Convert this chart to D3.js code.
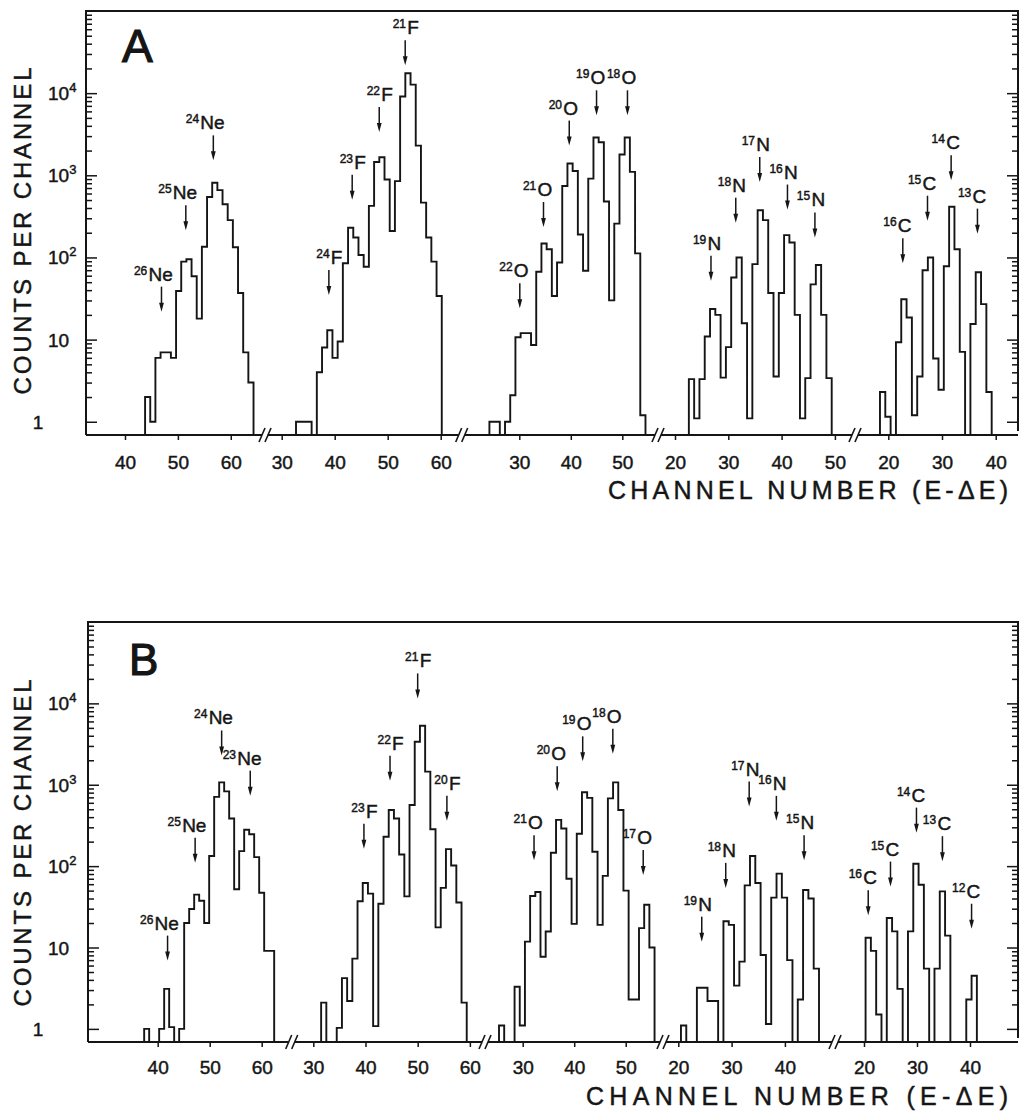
<!DOCTYPE html>
<html>
<head>
<meta charset="utf-8">
<script src="https://cdn.jsdelivr.net/npm/d3@7"></script>
<style>
body{margin:0;background:#fff;}
svg text{font-family:"Liberation Sans","DejaVu Sans",sans-serif;fill:#151515;stroke:#151515;stroke-width:0.45;}
</style>
</head>
<body>
<div class="chart"></div>
<script>
// element groups, left to right (same order in both panels)
var elements = ["Ne","F","O","N","C"];

// x tick labels of every group
var ticksA = [[40,50,60],[30,40,50,60],[30,40,50],[20,30,40,50],[20,30,40]];
var ticksB = [[40,50,60],[30,40,50,60],[30,40,50],[20,30,40],[20,30,40]];

// y tick labels as powers of ten
var yExponents = [0,1,2,3,4];

// first and last channel edge of each histogram
var edgesA = [[43.8,64.3],[32.7,60.2],[24.2,54.5],[22.6,49.4],[18.45,39.25]];
var edgesB = [[37.4,62.4],[31.5,59.4],[25.4,55.6],[20.5,46.4],[20.3,41.3]];

// counts per channel, panel A
var countsA_Ne = [2,1,6,7,7,6,39,89,95,59,18,135,545,810,660,445,285,133,37,7,3];
var countsA_F = [1,1,1,0,4,8,13,6,9.5,85,230,175,107,77,425,1450,1660,890,210,850,9100,17500,12700,2300,465,175,89,34];
var countsA_O = [1,1,0,1,2.1,10.7,12,12,8.6,67,148,126,34,87,740,1390,1130,190,69,910,2880,2530,480,30,258,1790,2880,1100,112,1.2];
var countsA_N = [3.3,1.1,3.3,10.9,23.6,20,3.45,8.1,57,100,15.8,1.1,83,375,285,37,3.55,37,187,152,20,1.1,3.4,47,81,20,3.4];
var countsA_C = [2.3,1.15,0,9.3,31,18.6,1.2,3.55,70,100,5.9,2.45,78,415,126,7.1,0,15.5,66,27,2.3];

// counts per channel, panel B
var countsB_Ne = [1,0,0,1,3.1,1.05,0,1,20,29.7,44.7,37.6,20,133,710,1070,830,385,52,153,280,246,129,47,9.1,9.1];
var countsB_F = [2.1,0,0,1.03,4.2,2.2,7.3,37,62,46,1.08,34.5,230,490,385,139,42.5,565,3380,5300,1450,284,17.7,54,162,102,35.7,2.1];
var countsB_O = [1.1,0,0,3.3,1.1,11.8,43,48,7.7,15.7,146,370,290,70,19.5,250,810,690,150,19,76,680,1070,490,50,2.3,2.3,17.3,33.5,10];
var countsB_N = [1.1,0,0,3.2,3.2,2.2,2.2,0,21,19,3.4,6.7,58,133,62,8.1,1.15,41,81,41,7,0,2.3,51,40,5.5];
var countsB_C = [13.2,9.1,1.5,0,23,15.8,3.1,0,15.8,107,59,5.5,0,5.5,49,14,0,0,0,2.3,4.5];

// isotope markers: name, channel, counts at arrow tip
var isoA = ["24Ne","25Ne","26Ne","21F","22F","23F","24F","19O","18O","20O","21O","22O","17N","16N","15N","18N","19N","14C","13C","15C","16C"];
var isoChA = [56.7,51.5,46.9,53.3,48.4,43.3,38.9,45.0,51.0,39.7,34.7,30.1,35.9,41.1,46.25,31.4,26.75,31.7,36.6,27.3,22.7];
var isoTipA = [1520,215,21.9,21800,3370,505,35,5370,5370,2300,235,24,830,383,175,265,52,870,195,280,85];

var isoB = ["24Ne","23Ne","25Ne","26Ne","21F","22F","20F","23F","19O","18O","20O","21O","17O","17N","16N","15N","18N","19N","14C","13C","15C","16C","12C"];
var isoChB = [52.3,57.8,47.2,41.9,50,44.7,55.6,39.7,41.65,47.5,36.7,32.2,53.4,33.3,38.4,43.6,28.9,24.4,29.9,34.8,25.0,20.8,40.3];
var isoTipB = [2290,735,110,6.9,11500,1120,360,164,1940,2400,830,118,78,540,360,118,54,11.8,258,115,56,25,17];

// layout of the two panels (pixels) and the channel span of each broken-axis group
var panels = [
  {letter:"A", top:11, bottom:435, left:86, right:1018,
   segX:[86,265,461.7,658,855,1018],
   segCh:[[32.63,66.47],[26.85,63.96],[18.82,56.93],[16.81,53.77],[13.8,44.15]],
   ticks:ticksA, edges:edgesA,
   counts:[countsA_Ne,countsA_F,countsA_O,countsA_N,countsA_C],
   iso:isoA, isoCh:isoChA, isoTip:isoTipA,
   letterX:122, letterY:62, letterSize:46, tickPad:16,
   xTitle:{x:608,y:499,len:400}, yTitleY:231},
  {letter:"B", top:622, bottom:1042, left:88, right:1018,
   segX:[88,291.7,485,663,835,1018],
   segCh:[[26.6,65.77],[25.86,62.9],[22.68,57.24],[17.13,49.4],[14.53,49.06]],
   ticks:ticksB, edges:edgesB,
   counts:[countsB_Ne,countsB_F,countsB_O,countsB_N,countsB_C],
   iso:isoB, isoCh:isoChB, isoTip:isoTipB,
   letterX:129, letterY:675, letterSize:44, tickPad:14,
   xTitle:{x:586,y:1105,len:422}, yTitleY:843}
];

// where the element symbol starts relative to its arrow
var symbolShift = {Ne:-13, F:2, O:-6, N:-3.5, C:-5};

var svgWidth = 1019, svgHeight = 1114;
var ink = "#151515";

var svg = d3.select(".chart").append("svg")
  .attr("width", svgWidth)
  .attr("height", svgHeight);

var majors = yExponents.map(function(e){ return Math.pow(10,e); });
var minors = [];
for (var d=0; d<5; d++){
  for (var m=2; m<10; m++){ minors.push(m*Math.pow(10,d)); }
}

function drawPanel(p){
  var g = svg.append("g");
  var y = d3.scaleLog().domain([0.69,1e5]).range([p.bottom,p.top]);

  // frame: left, top, right
  g.append("path")
    .attr("d", "M"+p.left+","+p.bottom+"V"+p.top+"H"+p.right+"V"+(p.bottom-4))
    .attr("fill","none").attr("stroke",ink).attr("stroke-width",2);

  // y ticks, inside on both sides
  [[d3.axisRight, p.left],[d3.axisLeft, p.right]].forEach(function(a){
    var ax = g.append("g").attr("transform","translate("+a[1]+",0)");
    ax.append("g").call(a[0](y).tickValues(minors).tickSize(6).tickFormat(""));
    ax.append("g").call(a[0](y).tickValues(majors).tickSize(11).tickFormat(""));
    ax.selectAll(".domain").remove();
    ax.selectAll("line").attr("stroke",ink).attr("stroke-width",1.5);
  });

  // y tick labels
  yExponents.forEach(function(e){
    var yy = y(Math.pow(10,e)) + 7;
    if (e === 0){
      g.append("text").attr("x",38).attr("y",yy).attr("text-anchor","middle")
        .attr("font-size",19).text("1");
      return;
    }
    var t = g.append("text").attr("x",48).attr("y",yy).attr("font-size",19);
    t.append("tspan").text("10");
    if (e > 1){
      t.append("tspan").attr("font-size",13).attr("dy",-8).text(e);
    }
  });

  // y title
  g.append("text")
    .attr("transform","translate(31,"+p.yTitleY+") rotate(-90)")
    .attr("text-anchor","middle")
    .attr("font-size",24)
    .attr("textLength",327).attr("lengthAdjust","spacing")
    .text("COUNTS PER CHANNEL");

  // panel letter
  g.append("text").attr("x",p.letterX).attr("y",p.letterY)
    .attr("font-size",p.letterSize).style("stroke-width",1.2).text(p.letter);

  var scales = [];
  elements.forEach(function(el,i){
    var x0 = p.segX[i], x1 = p.segX[i+1];
    var x = d3.scaleLinear().domain(p.segCh[i]).range([x0,x1]);
    scales.push(x);

    // bottom axis piece with a gap at each break
    var a0 = i === 0 ? x0 : x0+3;
    var a1 = i === elements.length-1 ? x1 : x1-3;
    g.append("line").attr("x1",a0).attr("x2",a1)
      .attr("y1",p.bottom).attr("y2",p.bottom)
      .attr("stroke",ink).attr("stroke-width",2);

    var ax = g.append("g").attr("transform","translate(0,"+p.bottom+")")
      .call(d3.axisBottom(x).tickValues(p.ticks[i]).tickSize(5)
        .tickPadding(p.tickPad).tickFormat(d3.format("d")));
    ax.select(".domain").remove();
    ax.selectAll("line").attr("stroke",ink).attr("stroke-width",1.5);
    ax.selectAll("text").attr("font-size",19).attr("fill",ink);
    ax.attr("font-family",null).attr("font-size",null);

    // histogram
    var s = p.edges[i][0], e = p.edges[i][1], c = p.counts[i];
    var w = (e-s)/c.length;
    var pts = [[s,0]];
    c.forEach(function(v,k){ pts.push([s+k*w, v]); });
    pts.push([e, c[c.length-1]]);
    pts.push([e, 0]);
    var line = d3.line()
      .x(function(d){ return x(d[0]); })
      .y(function(d){ return d[1] > 0 ? y(d[1]) : p.bottom; })
      .curve(d3.curveStepAfter);
    g.append("path").attr("d", line(pts))
      .attr("fill","none").attr("stroke",ink).attr("stroke-width",1.9)
      .attr("stroke-linejoin","miter");
  });

  // break marks
  p.segX.slice(1,-1).forEach(function(bx){
    [-3,3].forEach(function(off){
      g.append("line")
        .attr("x1",bx+off-3).attr("y1",p.bottom+7)
        .attr("x2",bx+off+3).attr("y2",p.bottom-7)
        .attr("stroke",ink).attr("stroke-width",1.6);
    });
  });

  // x title
  g.append("text").attr("x",p.xTitle.x).attr("y",p.xTitle.y)
    .attr("font-size",25)
    .attr("textLength",p.xTitle.len).attr("lengthAdjust","spacing")
    .text("CHANNEL NUMBER (E-\u0394E)");

  // isotope arrows and labels
  p.iso.forEach(function(name,k){
    var parts = name.match(/^(\d+)(\D+)$/);
    var mass = parts[1], sym = parts[2];
    var x = scales[elements.indexOf(sym)];
    var ax = x(p.isoCh[k]);
    var tip = y(p.isoTip[k]);
    var topY = tip - 25;
    g.append("line").attr("x1",ax).attr("x2",ax)
      .attr("y1",topY).attr("y2",tip-6)
      .attr("stroke",ink).attr("stroke-width",1.5);
    g.append("path")
      .attr("d","M"+(ax-2.4)+","+(tip-9)+"L"+ax+","+tip+"L"+(ax+2.4)+","+(tip-9)+"Z")
      .attr("fill",ink);
    var sx = ax + symbolShift[sym];
    var base = topY - 6;
    g.append("text").attr("x",sx).attr("y",base)
      .attr("font-size",19).text(sym);
    g.append("text").attr("x",sx-1.2).attr("y",base-6)
      .attr("text-anchor","end")
      .attr("font-size",12).text(mass);
  });
}

panels.forEach(drawPanel);
</script>
</body>
</html>
